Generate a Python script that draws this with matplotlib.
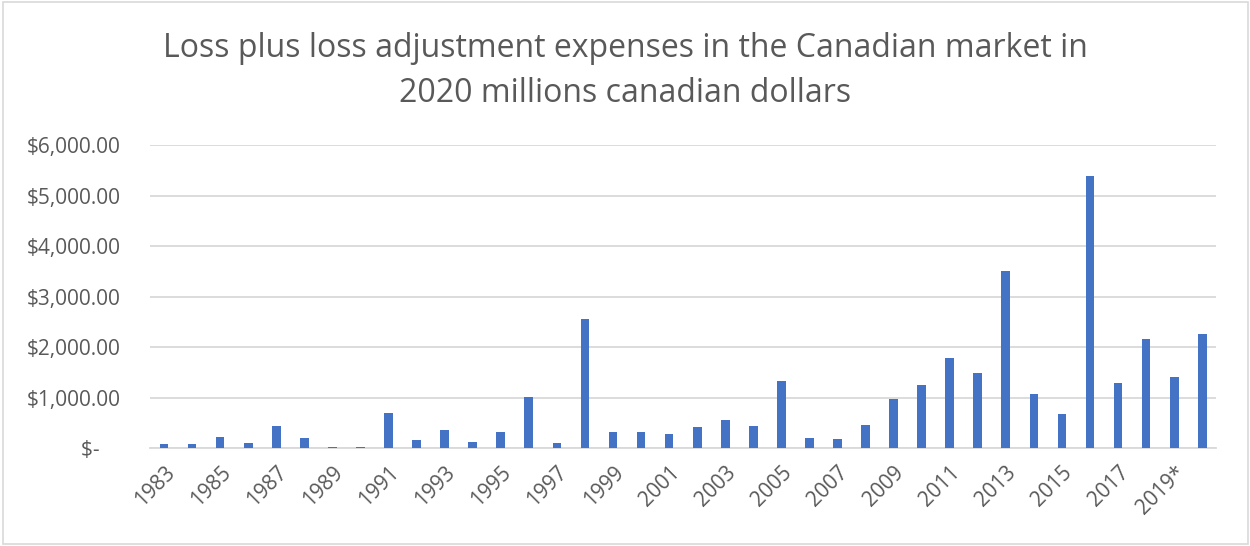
import matplotlib.pyplot as plt
from matplotlib.patches import Rectangle
from matplotlib.ticker import FuncFormatter

# data (millions CAD)
years = [str(y) for y in range(1983, 2019)] + ["2019*", "2020"]
losses = [86, 85, 218, 99, 435, 211, 26, 26, 692, 165,
          356, 125, 323, 1022, 105, 2558, 323, 316, 283, 415,
          560, 435, 1338, 198, 185, 455, 982, 1259, 1787, 1490,
          3508, 1081, 686, 5400, 1286, 2169, 1411, 2268]
y_ticks = [0, 1000, 2000, 3000, 4000, 5000, 6000]

title = "Loss plus loss adjustment expenses in the Canadian market in\n2020 millions canadian dollars"

text_color = "#595959"
grid_color = "#d9d9d9"
bar_color = "#4472c4"

plt.rcParams["font.family"] = ["Open Sans", "DejaVu Sans"]


def money(v, pos):
    if v == 0:
        return "$-    "
    return "${:,.2f}".format(v)


fig = plt.figure(figsize=(12.5, 5.46), dpi=100)
ax = fig.add_axes([0.12, 0.179, 0.853, 0.555])

x = list(range(len(years)))
ax.bar(x, losses, width=0.31, color=bar_color, zorder=3)

ax.set_xlim(-0.5, len(years) - 0.5)
ax.set_ylim(0, 6000)
ax.set_yticks(y_ticks)
ax.yaxis.set_major_formatter(FuncFormatter(money))
ax.set_xticks(x[::2])
ax.set_xticklabels(years[::2], rotation=45, ha="right", rotation_mode="anchor")

ax.grid(axis="y", color=grid_color, linewidth=1.3, zorder=0)
for side in ["top", "right", "left"]:
    ax.spines[side].set_visible(False)
ax.spines["bottom"].set_color(grid_color)
ax.spines["bottom"].set_linewidth(1.3)
ax.tick_params(axis="both", length=0, labelcolor=text_color, labelsize=15)
ax.tick_params(axis="y", pad=21)
ax.tick_params(axis="x", pad=10)

fig.text(0.5, 0.87, title, ha="center", va="center", fontsize=23,
         color=text_color, linespacing=1.5)

fig.patches.append(Rectangle((0.002, 0.004), 0.996, 0.992, transform=fig.transFigure,
                             fill=False, edgecolor=grid_color, linewidth=1.2))

fig.savefig("out.png", dpi=100)
